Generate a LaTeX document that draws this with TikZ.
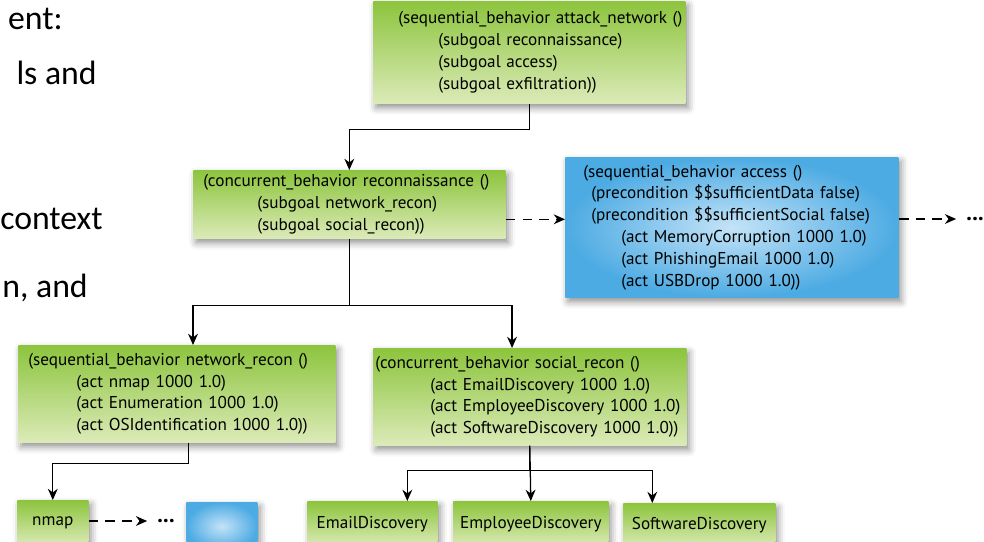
\documentclass[tikz,border=0pt]{standalone}
\usepackage{fontspec}
\usepackage{tikz}
\usetikzlibrary{arrows.meta, calc, positioning, shadows.blur}
\newfontfamily\ptsans[WordSpace=0.7]{PT Sans}
\newfontfamily\carlito{Carlito}
\definecolor{grtop}{rgb}{0.55,0.77,0.24}
\definecolor{grbot}{rgb}{0.86,0.92,0.72}
\definecolor{blout}{rgb}{0.30,0.67,0.89}
\definecolor{blin}{rgb}{0.77,0.89,0.97}
\newcommand{\boxfont}{\ptsans\fontsize{12.2}{15.5}\selectfont}
\newcommand{\slidefont}{\carlito\fontsize{24}{30}\selectfont}
% one line of a behaviour, indented, never broken
\newcommand{\bline}[2]{\mbox{\hspace*{#1}#2}}

\tikzset{
  shbox/.style={anchor=north west, inner sep=0pt, blur shadow={shadow xshift=2pt, shadow yshift=-3pt, shadow blur radius=5pt, shadow opacity=45}},
  grbox/.style={shbox, top color=grtop, bottom color=grbot, font=\boxfont, align=left},
  blbox/.style={shbox, inner color=blin, outer color=blout, font=\boxfont, align=left},
  dots/.style={font=\ptsans\fontsize{16}{16}\selectfont\bfseries, inner sep=0pt},
  arr/.style={-{Stealth[length=8pt,width=7pt]}, line width=0.9pt},
  darr/.style={arr, dash pattern=on 7pt off 5pt},
}

\begin{document}
\begin{tikzpicture}[x=0.025cm, y=-0.025cm]
		\clip (0,0) rectangle (984,541);
		
		%--- slide text (cut at the left) ---------------------------------
		\node(slideA) [font=\slidefont, anchor=base east, inner sep=0pt] at (63,29) {ent:};
		\node(slideB) [font=\slidefont, anchor=base east, inner sep=0pt] at (97,84) {ls and};
		\node(slideC) [font=\slidefont, anchor=base east, inner sep=0pt] at (103,229) {context};
		\node(slideD) [font=\slidefont, anchor=base east, inner sep=0pt] at (88,297) {n, and};
		
		%--- behaviours ----------------------------------------------------
		\node(attack) [grbox, text width=7.8cm, minimum height=2.55cm] at (373,1) {
			\bline{0.625cm}{(sequential\_behavior attack\_network ()} \\
			\bline{1.625cm}{(subgoal reconnaissance)} \\
			\bline{1.625cm}{(subgoal access)} \\
			\bline{1.625cm}{(subgoal exfiltration))}
		};
		
		\node(recon) [grbox, text width=7.8cm, minimum height=1.7cm] at (193,170) {
			\bline{0.25cm}{(concurrent\_behavior reconnaissance ()} \\
			\bline{1.6cm}{(subgoal network\_recon)} \\
			\bline{1.6cm}{(subgoal social\_recon))}
		};
		
		\node(access) [blbox, text width=8.325cm, minimum height=3.5cm] at (565,157) {
			\bline{0.45cm}{(sequential\_behavior access ()} \\
			\bline{0.65cm}{(precondition \$\$sufficientData false)} \\
			\bline{0.65cm}{(precondition \$\$sufficientSocial false)} \\
			\bline{1.4cm}{(act MemoryCorruption 1000 1.0)} \\
			\bline{1.4cm}{(act PhishingEmail 1000 1.0)} \\
			\bline{1.4cm}{(act USBDrop 1000 1.0))}
		};
		\node(dotsA) [dots] at (975,219) {...};
		
		\node(netrecon) [grbox, text width=7.925cm, minimum height=2.425cm] at (18,345) {
			\bline{0.25cm}{(sequential\_behavior network\_recon ()} \\
			\bline{1.45cm}{(act nmap 1000 1.0)} \\
			\bline{1.45cm}{(act Enumeration 1000 1.0)} \\
			\bline{1.45cm}{(act OSIdentification 1000 1.0))}
		};
		
		\node(social) [grbox, text width=7.825cm, minimum height=2.425cm] at (373,348) {
			\bline{0.05cm}{(concurrent\_behavior social\_recon ()} \\
			\bline{1.425cm}{(act EmailDiscovery 1000 1.0)} \\
			\bline{1.425cm}{(act EmployeeDiscovery 1000 1.0)} \\
			\bline{1.425cm}{(act SoftwareDiscovery 1000 1.0))}
		};
		
		%--- leaves --------------------------------------------------------
		\node(nmap) [grbox, align=center, minimum width=1.775cm, minimum height=1.125cm] at (17,500) {nmap};
		\node(dotsB) [dots] at (166,521) {...};
		\node(nextact) [blbox, minimum width=1.775cm, minimum height=1.2cm] at (186,502) {};
		
		\node(email) [grbox, align=center, minimum width=3.25cm, minimum height=1.125cm] at (307,501) {EmailDiscovery};
		\node(employee) [grbox, align=center, minimum width=3.875cm, minimum height=1.125cm] at (453,501) {EmployeeDiscovery};
		\node(software) [grbox, align=center, minimum width=3.8cm, minimum height=1.1cm] at (623,503) {SoftwareDiscovery};
		
		%--- connectors ----------------------------------------------------
		\draw [arr] (attack.south) -- ++(0,26) -| (recon.north);
		\draw [arr] (recon.south) -- ++(0,67) -| (recon.west |- netrecon.north);
		\draw [arr] (recon.south) -- ++(0,67) -| ([xshift=3.475cm]social.north west);
		\draw [arr] ([xshift=0.3cm]netrecon.south) -- ++(0,21) -| (nmap.north);
		\draw [arr] (social.south) -- ++(0,25) -| ([xshift=0.875cm]email.north);
		\draw [arr] (social.south) -- (employee.north);
		\draw [arr] (social.south) -- ++(0,25) -| ([xshift=-1.175cm]software.north);
		
		\draw [darr] ([yshift=-0.375cm]recon.east) coordinate(reconout) -- (reconout -| access.west);
		\draw [darr] (access.east |- dotsA) -- ([xshift=-0.25cm]dotsA.west);
		\draw [darr] (nmap.east |- dotsB) -- ([xshift=-0.25cm]dotsB.west);
		
	\end{tikzpicture}
\end{document}
